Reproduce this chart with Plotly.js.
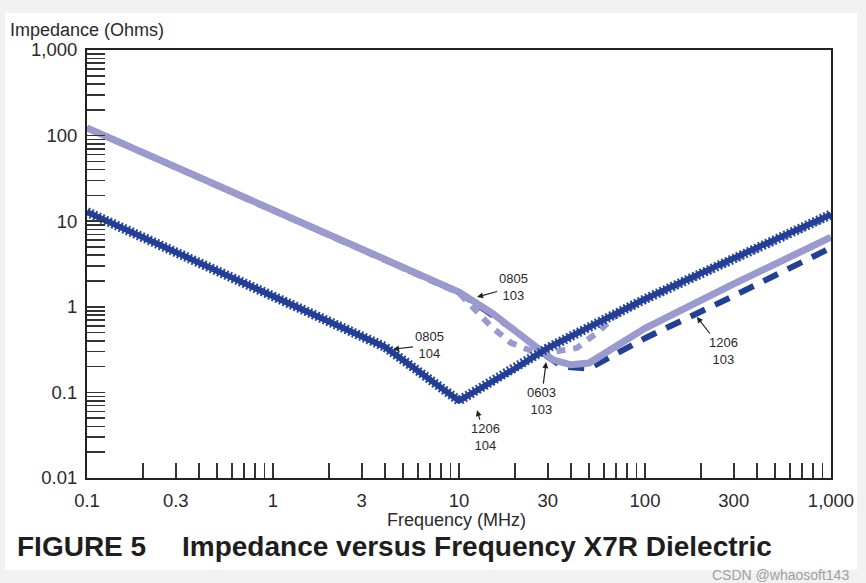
<!DOCTYPE html>
<html>
<head>
<meta charset="utf-8">
<script src="https://cdn.plot.ly/plotly-3.0.1.min.js"></script>
<style>
html,body{margin:0;padding:0;background:#f2f2f2;}
#chart{width:866px;height:583px;}
</style>
</head>
<body>
<div id="chart"></div>
<script>
// ---- Data (frequency in MHz, impedance in Ohms) ----
const freq_0805_103 = [0.1, 1, 10, 15, 20, 25, 32, 40, 50, 100, 300, 1000];
const z_0805_103    = [123, 13.5, 1.49, 0.85, 0.53, 0.38, 0.24, 0.21, 0.22, 0.56, 1.85, 6.5];

const freq_0603_103 = [0.1, 1, 10, 15, 19, 27, 43, 56, 70, 100, 300, 1000];
const z_0603_103    = [123, 13.5, 1.45, 0.58, 0.38, 0.28, 0.33, 0.51, 0.8, 1.2, 3.6, 11.5];

const freq_1206_103 = [0.1, 1, 10, 20, 30, 36, 50, 100, 300, 1000];
const z_1206_103    = [123, 13.5, 1.47, 0.53, 0.26, 0.2, 0.19, 0.43, 1.34, 4.9];

const freq_0805_104 = [0.1, 1, 4, 10, 20, 30, 100, 300, 1000];
const z_0805_104    = [12.8, 1.34, 0.34, 0.08, 0.19, 0.33, 1.23, 3.7, 12];

const freq_1206_104 = [0.1, 1, 4, 10, 20, 30, 100, 300, 1000];
const z_1206_104    = [12.8, 1.34, 0.34, 0.08, 0.19, 0.33, 1.23, 3.7, 12];

// ---- Tick labels ----
const xTickVals = [0.1, 0.3, 1, 3, 10, 30, 100, 300, 1000];
const xTickText = ['0.1', '0.3', '1', '3', '10', '30', '100', '300', '1,000'];
const xLongTicks = [1, 10, 100];
const yTickVals = [0.01, 0.1, 1, 10, 100, 1000];
const yTickText = ['0.01', '0.1', '1', '10', '100', '1,000'];
const yLongTicks = [0.1, 1];
const decadeSteps = [2, 3, 4, 5, 6, 7, 8, 9];
const xDecades = [0.1, 1, 10, 100];
const yDecades = [0.01, 0.1, 1, 10, 100];

function minorTicks(decades) {
  const out = [];
  decades.forEach(d => decadeSteps.forEach(m => out.push(+(m * d).toPrecision(6))));
  return out;
}

const LIGHT = '#9a9acf';
const DARK = '#223f95';
const FONT = 'Arial, "Liberation Sans", Helvetica, sans-serif';
const TXT = '#2a2a2a';

const traces = [
  {x: freq_1206_103, y: z_1206_103, mode: 'lines', name: '1206 103',
   line: {color: DARK, width: 6, dash: '16px,11px'}},
  {x: freq_0603_103, y: z_0603_103, mode: 'lines', name: '0603 103',
   line: {color: LIGHT, width: 6, dash: '9px,8px'}},
  {x: freq_0805_103, y: z_0805_103, mode: 'lines', name: '0805 103',
   line: {color: LIGHT, width: 7}},
  {x: freq_1206_104, y: z_1206_104, mode: 'lines', name: '1206 104 teeth',
   line: {color: '#2b4ba3', width: 10, dash: '2px,2px'}},
  {x: freq_1206_104, y: z_1206_104, mode: 'lines', name: '1206 104',
   line: {color: DARK, width: 5.5}},
  {x: freq_0805_104, y: z_0805_104, mode: 'lines', name: '0805 104',
   line: {color: DARK, width: 5.5}}
];

function lbl(text, x, y, ax, ay) {
  return {text: text, x: Math.log10(x), y: Math.log10(y), xref: 'x', yref: 'y',
    ax: ax, ay: ay, showarrow: true, arrowhead: 2, arrowsize: 1, arrowwidth: 1.2,
    arrowcolor: '#222', standoff: 0, font: {family: FONT, size: 13, color: TXT}};
}

const layout = {
  width: 866, height: 583,
  margin: {l: 87, r: 35, t: 50, b: 105},
  paper_bgcolor: '#f2f2f2',
  plot_bgcolor: '#ffffff',
  showlegend: false,
  font: {family: FONT, color: TXT},
  xaxis: {
    type: 'log', range: [-1, 3], showgrid: false, zeroline: false,
    showline: true, linecolor: '#222', linewidth: 2, mirror: true,
    tickmode: 'array', tickvals: xTickVals, ticktext: xTickText,
    ticks: 'inside', ticklen: 15, tickwidth: 1.6, tickcolor: '#333',
    ticklabelstandoff: 5,
    tickfont: {family: FONT, size: 18.5, color: TXT},
    minor: {tickmode: 'array', tickvals: minorTicks(xDecades), ticks: 'inside',
            ticklen: 15, tickwidth: 1.6, tickcolor: '#333', showgrid: false}
  },
  xaxis2: {
    type: 'log', range: [-1, 3], overlaying: 'x', anchor: 'y', side: 'bottom',
    showgrid: false, zeroline: false, showline: false, showticklabels: false,
    tickmode: 'array', tickvals: xLongTicks,
    ticks: 'inside', ticklen: 25, tickwidth: 1.6, tickcolor: '#333'
  },
  yaxis: {
    type: 'log', range: [-2, 3], showgrid: false, zeroline: false,
    showline: true, linecolor: '#222', linewidth: 2, mirror: true,
    tickmode: 'array', tickvals: yTickVals, ticktext: yTickText,
    ticks: 'inside', ticklen: 18, tickwidth: 1.6, tickcolor: '#333',
    ticklabelstandoff: 4,
    tickfont: {family: FONT, size: 18.5, color: TXT},
    minor: {tickmode: 'array', tickvals: minorTicks(yDecades), ticks: 'inside',
            ticklen: 18, tickwidth: 1.6, tickcolor: '#333', showgrid: false}
  },
  yaxis2: {
    type: 'log', range: [-2, 3], overlaying: 'y', anchor: 'x', side: 'left',
    showgrid: false, zeroline: false, showline: false, showticklabels: false,
    tickmode: 'array', tickvals: yLongTicks,
    ticks: 'inside', ticklen: 28, tickwidth: 1.6, tickcolor: '#333'
  },
  shapes: [
    {type: 'rect', xref: 'paper', yref: 'paper', layer: 'below',
     x0: -0.1102, x1: 1.0349, y0: -0.215, y1: 1.0864,
     fillcolor: '#ffffff', line: {width: 0}}
  ],
  annotations: [
    {text: 'Impedance (Ohms)', xref: 'paper', yref: 'paper', x: -0.106, y: 1.0467,
     xanchor: 'left', yanchor: 'middle', showarrow: false,
     font: {family: FONT, size: 18, color: TXT}},
    {text: 'Frequency (MHz)', xref: 'paper', yref: 'paper', x: 0.497, y: -0.098,
     xanchor: 'center', yanchor: 'middle', showarrow: false,
     font: {family: FONT, size: 18, color: TXT}},
    {text: '<b>FIGURE 5</b>', xref: 'paper', yref: 'paper', x: -0.0968, y: -0.161,
     xanchor: 'left', yanchor: 'middle', showarrow: false,
     font: {family: FONT, size: 28, color: '#1e1e1e'}},
    {text: '<b>Impedance versus Frequency X7R Dielectric</b>', xref: 'paper', yref: 'paper',
     x: 0.125, y: -0.161, xanchor: 'left', yanchor: 'middle', showarrow: false,
     font: {family: FONT, size: 28, color: '#1e1e1e'}},
    {text: 'CSDN @whaosoft143', xref: 'paper', yref: 'paper', x: 1.0275, y: -0.226,
     xanchor: 'right', yanchor: 'middle', showarrow: false,
     font: {family: FONT, size: 14, color: '#a0a0a0'}},
    lbl('0805<br>103', 12.5, 1.3, 36, -10),
    lbl('0805<br>104', 4.42, 0.32, 36, -4),
    lbl('0603<br>103', 29.4, 0.226, -5, 39),
    lbl('1206<br>104', 12.5, 0.062, 8, 27),
    lbl('1206<br>103', 190, 0.76, 27, 34)
  ]
};

Plotly.newPlot('chart', traces, layout, {staticPlot: true, displayModeBar: false});
</script>
</body>
</html>
